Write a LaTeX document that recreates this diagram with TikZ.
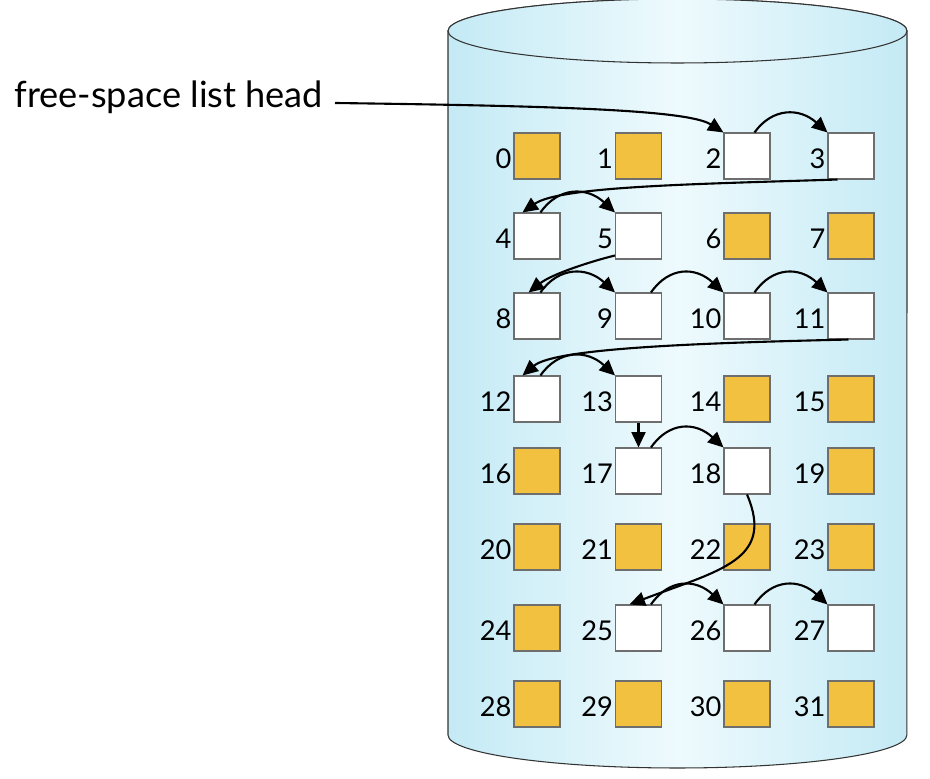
\documentclass[tikz,border=0pt]{standalone}
\usepackage{fontspec}
\setmainfont{Lato}
\usetikzlibrary{arrows.meta}
\definecolor{cylside}{RGB}{196,234,245}
\definecolor{cylmid}{RGB}{238,250,253}
\definecolor{usedfill}{RGB}{242,193,64}
\definecolor{boxline}{RGB}{110,110,110}
\begin{document}
\begin{tikzpicture}[x=0.02cm,y=0.02cm,
  blk/.style={draw=boxline,line width=0.6pt,minimum size=0.92cm,inner sep=0pt},
  usedblk/.style={blk,fill=usedfill},
  freeblk/.style={blk,fill=white},
  num/.style={anchor=east,inner sep=1pt,yshift=-0.06cm,font=\fontsize{15.5}{18}\selectfont},
  link/.style={line width=1.2pt,-{Triangle[length=8.8pt,width=8pt]}},
  cyl/.style={left color=cylside,right color=cylside,middle color=cylmid,draw=black!80,line width=0.6pt}
]
\useasboundingbox (0,0) rectangle (930,778);
% cylinder
\path[cyl] (448,747) -- (448,43) arc[start angle=180,end angle=360,x radius=4.59cm,y radius=0.66cm]
  -- (907,747) arc[start angle=0,end angle=180,x radius=4.59cm,y radius=0.64cm] -- cycle;
\path[cyl] (677.5,747) ellipse[x radius=4.59cm,y radius=0.64cm];
% blocks
\node[usedblk] (b0) at (537,622) {};
\node[usedblk] (b1) at (638.5,622) {};
\node[freeblk] (b2) at (747,622) {};
\node[freeblk] (b3) at (851,622) {};
\node[freeblk] (b4) at (537,542) {};
\node[freeblk] (b5) at (638.5,542) {};
\node[usedblk] (b6) at (747,542) {};
\node[usedblk] (b7) at (851,542) {};
\node[freeblk] (b8) at (537,462) {};
\node[freeblk] (b9) at (638.5,462) {};
\node[freeblk] (b10) at (747,462) {};
\node[freeblk] (b11) at (851,462) {};
\node[freeblk] (b12) at (537,379) {};
\node[freeblk] (b13) at (638.5,379) {};
\node[usedblk] (b14) at (747,379) {};
\node[usedblk] (b15) at (851,379) {};
\node[usedblk] (b16) at (537,307) {};
\node[freeblk] (b17) at (638.5,307) {};
\node[freeblk] (b18) at (747,307) {};
\node[usedblk] (b19) at (851,307) {};
\node[usedblk] (b20) at (537,231) {};
\node[usedblk] (b21) at (638.5,231) {};
\node[usedblk] (b22) at (747,231) {};
\node[usedblk] (b23) at (851,231) {};
\node[usedblk] (b24) at (537,150) {};
\node[freeblk] (b25) at (638.5,150) {};
\node[freeblk] (b26) at (747,150) {};
\node[freeblk] (b27) at (851,150) {};
\node[usedblk] (b28) at (537,74) {};
\node[usedblk] (b29) at (638.5,74) {};
\node[usedblk] (b30) at (747,74) {};
\node[usedblk] (b31) at (851,74) {};
\foreach \i in {0,...,31} \node[num] (n\i) at (b\i.west) {\i};
% head label
\node[anchor=base west,inner sep=0pt,font=\fontsize{20.6}{24}\selectfont] (lbl) at (14,670) {free-space list head};
\coordinate (hd) at (335,675);
% links
\draw[link] (hd) .. controls (560,672) and (688,668) .. (b2.north west);
\draw[link] ([xshift=0.62cm]b2.north west) .. controls +(18,25) and +(-28,25) .. (b3.north west);
\draw[link] ([xshift=0.2cm]b3.south west) .. controls (700,594) and (560,592) .. ([xshift=0.18cm]b4.north west);
\draw[link] ([xshift=0.54cm]b4.north west) .. controls +(18,26) and +(-28,26) .. (b5.north west);
\draw[link] ([yshift=0.08cm]b5.south west) .. controls (592,517) and (552,504) .. ([xshift=0.3cm]b8.north west);
\draw[link] ([xshift=0.54cm]b8.north west) .. controls +(18,26) and +(-28,26) .. (b9.north west);
\draw[link] ([xshift=0.72cm]b9.north west) .. controls +(18,26) and +(-28,26) .. (b10.north west);
\draw[link] ([xshift=0.62cm]b10.north west) .. controls +(18,26) and +(-28,26) .. (b11.north west);
\draw[link] ([xshift=0.42cm]b11.south west) .. controls (700,435) and (555,430) .. ([xshift=0.18cm]b12.north west);
\draw[link] ([xshift=0.54cm]b12.north west) .. controls +(18,26) and +(-28,26) .. (b13.north west);
\draw[link] (b13.south) -- (b17.north);
\draw[link] ([xshift=0.72cm]b17.north west) .. controls +(18,26) and +(-28,26) .. (b18.north west);
\draw[link] (b18.south) .. controls (775,218) and (720,208) .. ([xshift=0.29cm]b25.north west);
\draw[link] ([xshift=0.72cm]b25.north west) .. controls +(18,26) and +(-28,26) .. (b26.north west);
\draw[link] ([xshift=0.62cm]b26.north west) .. controls +(18,26) and +(-28,26) .. (b27.north west);
\end{tikzpicture}
\end{document}
